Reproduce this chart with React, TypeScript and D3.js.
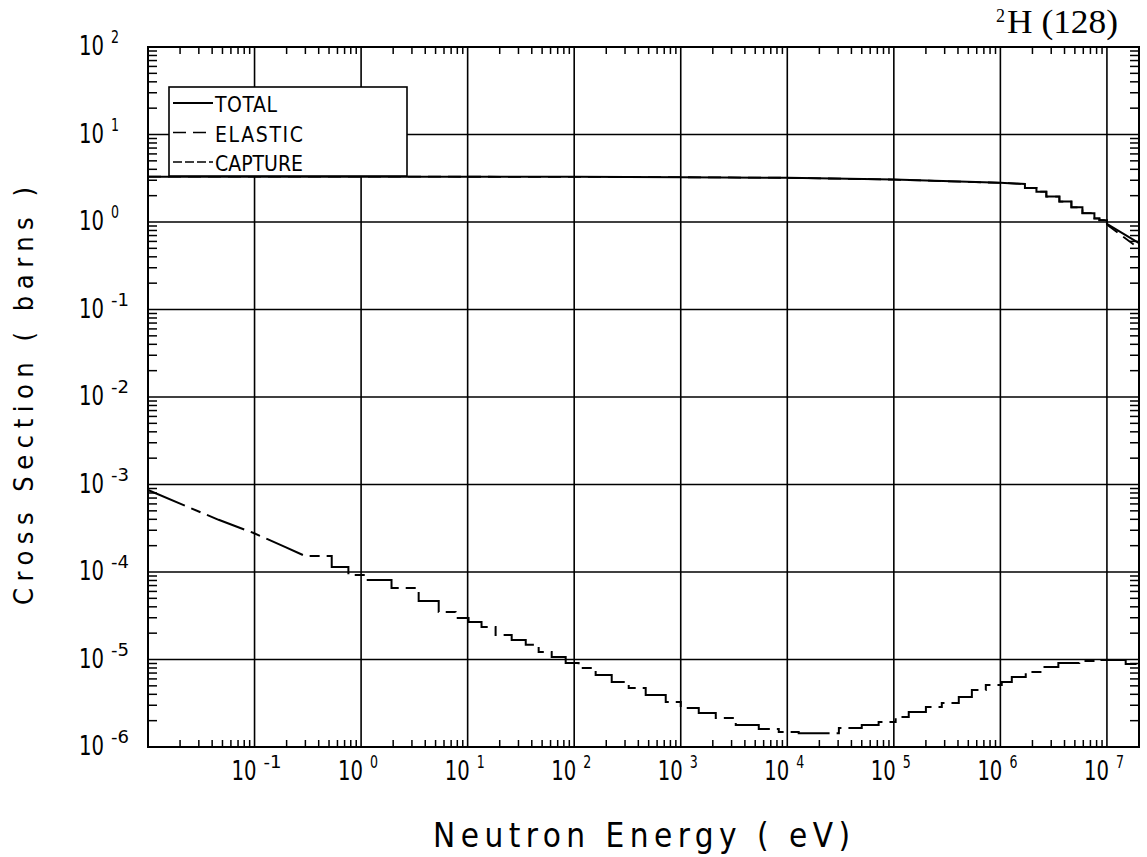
import React from "react";
import * as d3 from "d3";

// Energy grid limits (eV) and cross-section limits (barns)
const energyDomain: [number, number] = [0.01, 2e7];
const sigmaDomain: [number, number] = [1e-6, 1e2];
const xDecades = [-1, 0, 1, 2, 3, 4, 5, 6, 7];
const yDecades = [-6, -5, -4, -3, -2, -1, 0, 1, 2];

// TOTAL cross section: smooth part, group-wise part, high-energy tail
const totalPointwise: [number, number][] = [
  [0.01, 3.3], [1, 3.3], [100, 3.28], [1e3, 3.25], [1e4, 3.2], [1e5, 3.05], [1e6, 2.8], [1.7e6, 2.72],
];
const totalStepped: [number, number][] = [
  [1.7e6, 2.45], [2.18e6, 2.22], [2.7e6, 1.95], [3.58e6, 1.71], [4.64e6, 1.47], [5.89e6, 1.26],
  [7.63e6, 1.1], [8.5e6, 1.05], [1e7, 0.95],
];
const totalTail: [number, number][] = [[1e7, 0.95], [2e7, 0.575]];

// ELASTIC cross section
const elasticPointwise: [number, number][] = [
  [0.01, 3.3], [1, 3.3], [100, 3.28], [1e3, 3.25], [1e4, 3.2], [1e5, 3.05], [1e6, 2.8], [1.7e6, 2.72],
];
const elasticStepped: [number, number][] = [
  [1.7e6, 2.45], [2.18e6, 2.22], [2.7e6, 1.95], [3.58e6, 1.71], [4.64e6, 1.47], [5.89e6, 1.26],
  [7.63e6, 1.1], [8.5e6, 1.05], [1e7, 0.93],
];
const elasticTail: [number, number][] = [[1e7, 0.93], [2e7, 0.5]];

// CAPTURE cross section
const capturePointwise: [number, number][] = [
  [0.01, 8.65e-4], [0.024, 5.5e-4], [0.046, 3.95e-4], [0.098, 2.79e-4], [0.195, 1.92e-4], [0.3, 1.52e-4],
];
const captureStepped: [number, number][] = [
  [0.3, 1.52e-4], [0.53, 1.14e-4], [0.76, 9.24e-5], [1.1, 8.1e-5], [1.93, 6.56e-5], [3.47, 4.67e-5],
  [5.35, 3.49e-5], [7.71, 2.98e-5], [10.2, 2.68e-5], [13.5, 2.35e-5], [18.3, 1.9e-5], [25.9, 1.67e-5],
  [35.1, 1.47e-5], [46.4, 1.22e-5], [61.5, 1.07e-5], [83.2, 9.1e-6], [110, 8.0e-6], [159, 6.65e-6],
  [225, 5.53e-6], [325, 4.72e-6], [469, 3.93e-6], [723, 3.27e-6], [1000, 2.79e-6], [1476, 2.45e-6],
  [2132, 2.15e-6], [3284, 1.78e-6], [5400, 1.61e-6], [8318, 1.48e-6], [12800, 1.44e-6], [19800, 1.44e-6],
  [30500, 1.65e-6], [50000, 1.78e-6], [72000, 1.93e-6], [1.04e5, 2.2e-6], [1.38e5, 2.51e-6], [2.0e5, 2.86e-6],
  [2.82e5, 3.18e-6], [4.07e5, 3.73e-6], [5.4e5, 4.48e-6], [7.3e5, 5.11e-6], [1.03e6, 5.53e-6], [1.28e6, 6.3e-6],
  [1.73e6, 7.2e-6], [2.45e6, 8.2e-6], [3.5e6, 9.1e-6], [5.5e6, 9.6e-6], [8.4e6, 9.86e-6], [1.02e7, 9.86e-6],
  [1.5e7, 8.9e-6], [2e7, 8.2e-6],
];

const legendItems = [
  { label: "TOTAL", dash: "none", len: 62 },
  { label: "ELASTIC", dash: "13 7", len: 88 },
  { label: "CAPTURE", dash: "9 3", len: 88 },
];

const W = 1147;
const H = 857;
const left = 148;
const right = 1139;
const top = 47;
const bottom = 747;

const plotFont = "'DejaVu Sans Condensed', 'DejaVu Sans', sans-serif";
const serif = "'Liberation Serif', 'DejaVu Serif', serif";

const x = d3.scaleLog().domain(energyDomain).range([left, right]);
const y = d3.scaleLog().domain(sigmaDomain).range([bottom, top]);

// expand group-wise values into a staircase (value holds until next energy)
function stairs(pts: [number, number][]): [number, number][] {
  const out: [number, number][] = [];
  pts.forEach((p, i) => {
    out.push(p);
    if (i < pts.length - 1) out.push([pts[i + 1][0], p[1]]);
  });
  return out;
}

const line = d3
  .line<[number, number]>()
  .x((d) => x(d[0]))
  .y((d) => y(d[1]));

function seriesPath(a: [number, number][], b: [number, number][], c: [number, number][]) {
  return line([...a, ...stairs(b), ...c]) || "";
}

const xMinor: number[] = [];
for (let d = -2; d <= 7; d++) {
  for (let m = 2; m <= 9; m++) {
    const v = m * Math.pow(10, d);
    if (v > energyDomain[0] && v < energyDomain[1]) xMinor.push(v);
  }
}
const yMinor: number[] = [];
for (let d = -6; d <= 1; d++) {
  for (let m = 2; m <= 9; m++) yMinor.push(m * Math.pow(10, d));
}

// "10" with a raised exponent, "10" ending at px
function Pow({ px, py, exp }: { px: number; py: number; exp: number }) {
  const e = exp < 0 ? `-${-exp}` : `${exp}`;
  return (
    <g>
      <text x={px - 25} y={py} fontFamily={plotFont} fontSize={27} textLength={25} lengthAdjust="spacingAndGlyphs">
        10
      </text>
      <text
        x={px + 7}
        y={py - 12}
        fontFamily={plotFont}
        fontSize={17}
        textLength={exp < 0 ? 18 : 8}
        lengthAdjust="spacingAndGlyphs"
      >
        {e}
      </text>
    </g>
  );
}

export default function App() {
  const totalD = seriesPath(totalPointwise, totalStepped, totalTail);
  const elasticD = seriesPath(elasticPointwise, elasticStepped, elasticTail);
  const captureD = seriesPath(capturePointwise, captureStepped, []);

  const legX = 169;
  const legY = 87;
  const legW = 238;
  const legH = 89;

  return (
    <svg
      width={W}
      height={H}
      style={{ position: "absolute", left: 0, top: 0, background: "#fff" }}
      xmlns="http://www.w3.org/2000/svg"
    >
      <rect x={0} y={0} width={W} height={H} fill="#fff" />

      {/* grid lines at every decade */}
      {xDecades.map((d) => (
        <line key={"gx" + d} x1={x(Math.pow(10, d))} x2={x(Math.pow(10, d))} y1={top} y2={bottom} stroke="#000" strokeWidth={1.6} />
      ))}
      {yDecades.map((d) => (
        <line key={"gy" + d} x1={left} x2={right} y1={y(Math.pow(10, d))} y2={y(Math.pow(10, d))} stroke="#000" strokeWidth={1.6} />
      ))}

      {/* curves */}
      <path d={elasticD} fill="none" stroke="#000" strokeWidth={1.8} strokeDasharray="13 7" />
      <path d={totalD} fill="none" stroke="#000" strokeWidth={2} />
      <path d={captureD} fill="none" stroke="#000" strokeWidth={2} strokeDasharray="40 7 10 7" />

      {/* legend */}
      <rect x={legX} y={legY} width={legW} height={legH} fill="#fff" stroke="#000" strokeWidth={1.6} />
      {legendItems.map((it, i) => {
        const ly = legY + 16 + i * 29.5;
        return (
          <g key={it.label}>
            <line x1={legX + 4} x2={legX + 44} y1={ly} y2={ly} stroke="#000" strokeWidth={it.dash === "none" ? 2 : 1.3} strokeDasharray={it.dash} />
            <text x={legX + 46} y={ly + 9} fontFamily={plotFont} fontSize={21} textLength={it.len} lengthAdjust="spacing">
              {it.label}
            </text>
          </g>
        );
      })}

      {/* frame */}
      <rect x={left} y={top} width={right - left} height={bottom - top} fill="none" stroke="#000" strokeWidth={2} />

      {/* minor ticks */}
      {xMinor.map((v, i) => (
        <g key={"xm" + i}>
          <line x1={x(v)} x2={x(v)} y1={bottom} y2={bottom - 7} stroke="#000" strokeWidth={1.5} />
          <line x1={x(v)} x2={x(v)} y1={top} y2={top + 7} stroke="#000" strokeWidth={1.5} />
        </g>
      ))}
      {yMinor.map((v, i) => (
        <g key={"ym" + i}>
          <line x1={left} x2={left + 9} y1={y(v)} y2={y(v)} stroke="#000" strokeWidth={1.5} />
          <line x1={right} x2={right - 9} y1={y(v)} y2={y(v)} stroke="#000" strokeWidth={1.5} />
        </g>
      ))}

      {/* tick labels */}
      {xDecades.map((d) => (
        <Pow key={"lx" + d} px={x(Math.pow(10, d)) + 2} py={780} exp={d} />
      ))}
      {yDecades.map((d) => (
        <Pow key={"ly" + d} px={104} py={y(Math.pow(10, d)) + 8} exp={d} />
      ))}

      {/* axis titles */}
      <text x={433} y={847} fontFamily={plotFont} fontSize={33} textLength={417} lengthAdjust="spacing">
        Neutron Energy ( eV)
      </text>
      <text
        transform="translate(33,396) rotate(-90)"
        textAnchor="middle"
        fontFamily={plotFont}
        fontSize={27}
        textLength={418}
        lengthAdjust="spacing"
      >
        Cross Section ( barns )
      </text>

      {/* nuclide label */}
      <text x={996} y={22} fontFamily={serif} fontSize={18}>
        2
      </text>
      <text x={1007} y={33} fontFamily={serif} fontSize={34} textLength={111} lengthAdjust="spacingAndGlyphs">
        H (128)
      </text>
    </svg>
  );
}
